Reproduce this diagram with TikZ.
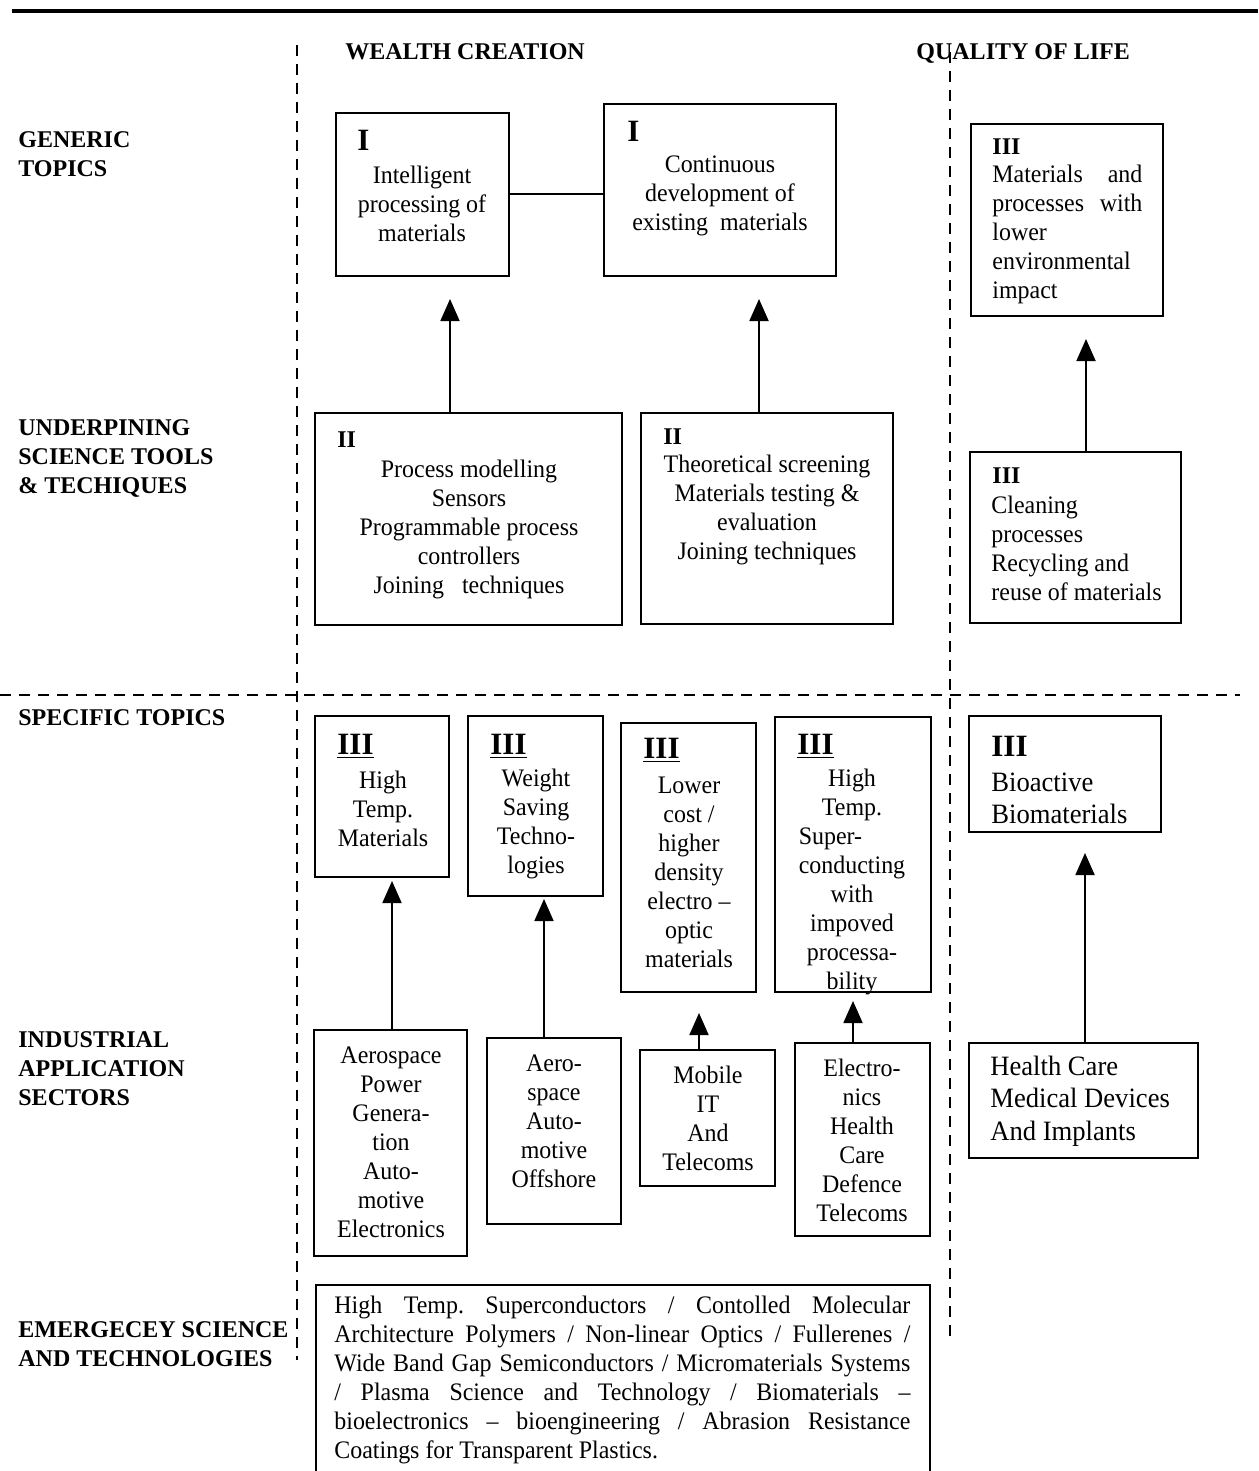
\documentclass[tikz,border=0pt]{standalone}
\usepackage{fontspec}
\setmainfont{Liberation Serif}
\newfontfamily\bodyfont{Liberation Serif}[FakeStretch=0.95]
\usetikzlibrary{arrows.meta,fit,calc}
\begin{document}
\frenchspacing
\begin{tikzpicture}[x=0.5pt,y=-0.5pt,
  box/.style={draw, line width=1pt, inner sep=0pt},
  txt/.style={font=\bodyfont\fontsize{12.6}{14.5}\selectfont, align=center, inner sep=0pt},
  ltxt/.style={font=\bodyfont\fontsize{12.6}{14.5}\selectfont, align=left, anchor=west, inner sep=0pt},
  btxt/.style={font=\bodyfont\fontsize{14}{16.2}\selectfont, align=left, anchor=west, inner sep=0pt},
  lab/.style={font=\bfseries\fontsize{12}{14.5}\selectfont, align=left, anchor=west, inner sep=0pt},
  num/.style={font=\bfseries\fontsize{12}{14}\selectfont, anchor=west, inner sep=0pt},
  bignum/.style={font=\bfseries\fontsize{15.5}{17}\selectfont, anchor=west, inner sep=0pt},
  arr/.style={line width=0.9pt, -{Triangle[length=11pt,width=9.5pt]}},
  sep/.style={line width=0.7pt, dash pattern=on 5.5pt off 4pt}]
\useasboundingbox (0,0) rectangle (1258,1471);

% page rule and separators
\draw[line width=1.6pt] (12,11) -- (1258,11);
\draw[sep] (297,45) -- (297,1360);
\draw[sep] (950,52) -- (950,1340);
\draw[sep] (0,695) -- (1240,695);

% row and column headings
\node[lab] (hwc) at (345,52) {WEALTH CREATION};
\node[lab] (hql) at (916,54) {QUALITY OF LIFE};
\node[lab] (hgen) at (18,154.5) {GENERIC\\TOPICS};
\node[lab] (hund) at (18,458) {UNDERPINING\\SCIENCE TOOLS\\\& TECHIQUES};
\node[lab] (hspe) at (18,718) {SPECIFIC TOPICS};
\node[lab] (hind) at (18,1069) {INDUSTRIAL\\APPLICATION\\SECTORS};
\node[lab] (heme) at (18,1344) {EMERGECEY SCIENCE\\AND TECHNOLOGIES};

% generic topics
\node[box, fit={(336,113) (509,276)}] (A) {};
\node[bignum] (Anum) at (357,140) {I};
\node[txt] (Atxt) at (422,204) {Intelligent\\processing of\\materials};

\node[box, fit={(604,104) (836,276)}] (B) {};
\node[bignum] (Bnum) at (627,131) {I};
\node[txt] (Btxt) at (720,196) {Continuous\\development of\\existing\ \ materials};

\node[box, fit={(971,124) (1163,316)}] (E) {};
\node[num] (Enum) at (992,147) {III};
\node[ltxt] (Etxt) at (992,234.5) {\makebox[75pt][s]{Materials and}\\\makebox[75pt][s]{processes with}\\lower\\environmental\\impact};

\draw[line width=1pt] (A.east) -- (B.west |- A.east);

% underpinning science
\node[box, fit={(315,413) (622,625)}] (C) {};
\node[num] (Cnum) at (337,440) {II};
\node[txt] (Ctxt) at (469,529) {Process modelling\\Sensors\\Programmable process\\controllers\\Joining\ \ \ techniques};

\node[box, fit={(641,413) (893,624)}] (D) {};
\node[num] (Dnum) at (663,437) {II};
\node[txt] (Dtxt) at (767,509.5) {Theoretical screening\\Materials testing \&\\evaluation\\Joining techniques};

\node[box, fit={(970,452) (1181,623)}] (F) {};
\node[num] (Fnum) at (992,476) {III};
\node[ltxt] (Ftxt) at (991,548.5) {Cleaning\\processes\\Recycling and\\reuse of materials};

\coordinate (xac) at (450,0);
\coordinate (xbd) at (759,0);
\coordinate (xef) at (1086,0);
\draw[arr, shorten >=11pt] (C.north -| xac) -- (A.south -| xac);
\draw[arr, shorten >=11pt] (D.north -| xbd) -- (B.south -| xbd);
\draw[arr, shorten >=11pt] (F.north -| xef) -- (E.south -| xef);

% specific topics
\node[box, fit={(315,716) (449,877)}] (G) {};
\node[bignum] (Gnum) at (337,746) {\underline{III}};
\node[txt] (Gtxt) at (383,809) {High\\Temp.\\Materials};

\node[box, fit={(468,716) (603,896)}] (H) {};
\node[bignum] (Hnum) at (490,746) {\underline{III}};
\node[txt] (Htxt) at (536,823.5) {Weight\\Saving\\Techno-\\logies};

\node[box, fit={(621,723) (756,992)}] (I) {};
\node[bignum] (Inum) at (643,750) {\underline{III}};
\node[txt] (Itxt) at (689,872) {Lower\\cost /\\higher\\density\\electro –\\optic\\materials};

\node[box, fit={(775,717) (931,992)}] (J) {};
\node[bignum] (Jnum) at (797,746) {\underline{III}};
\node[txt] (Jtxt) at (852,881.5) {High\\Temp.\\\rlap{Super-}\phantom{conducting}\\conducting\\with\\impoved\\processa-\\bility};

\node[box, fit={(969,716) (1161,832)}] (K) {};
\node[bignum] (Knum) at (991,746) {III};
\node[btxt] (Ktxt) at (991,798.5) {Bioactive\\Biomaterials};

% industrial application sectors
\node[box, fit={(314,1030) (467,1256)}] (L) {};
\node[txt] (Ltxt) at (391,1142) {Aerospace\\Power\\Genera-\\tion\\Auto-\\motive\\Electronics};

\node[box, fit={(487,1038) (621,1224)}] (M) {};
\node[txt] (Mtxt) at (554,1121) {Aero-\\space\\Auto-\\motive\\Offshore};

\node[box, fit={(640,1050) (775,1186)}] (N) {};
\node[txt] (Ntxt) at (708,1118.5) {Mobile\\IT\\And\\Telecoms};

\node[box, fit={(795,1043) (930,1236)}] (O) {};
\node[txt] (Otxt) at (862,1140) {Electro-\\nics\\Health\\Care\\Defence\\Telecoms};

\node[box, fit={(969,1043) (1198,1158)}] (P) {};
\node[btxt] (Ptxt) at (990,1101) {Health Care\\Medical Devices\\And Implants};

\coordinate (xgl) at (392,0);
\coordinate (xhm) at (544,0);
\coordinate (xin) at (699,0);
\coordinate (xjo) at (853,0);
\coordinate (xkp) at (1085,0);
\draw[arr, shorten >=1.5pt] (L.north -| xgl) -- (G.south -| xgl);
\draw[arr, shorten >=1pt] (M.north -| xhm) -- (H.south -| xhm);
\draw[arr, shorten >=10pt] (N.north -| xin) -- (I.south -| xin);
\draw[arr, shorten >=4pt] (O.north -| xjo) -- (J.south -| xjo);
\draw[arr, shorten >=10pt] (P.north -| xkp) -- (K.south -| xkp);

% emerging science and technologies
\node[box, fit={(316,1285) (930,1510)}] (Q) {};
\node[ltxt] (Qtxt) at (334,1380) {%
\makebox[288pt][s]{High Temp. Superconductors / Contolled Molecular}\\
\makebox[288pt][s]{Architecture Polymers / Non-linear Optics / Fullerenes /}\\
\makebox[288pt][s]{Wide Band Gap Semiconductors / Micromaterials Systems}\\
\makebox[288pt][s]{/ Plasma Science and Technology / Biomaterials –}\\
\makebox[288pt][s]{bioelectronics – bioengineering / Abrasion Resistance}\\
Coatings for Transparent Plastics.};
\end{tikzpicture}
\end{document}
